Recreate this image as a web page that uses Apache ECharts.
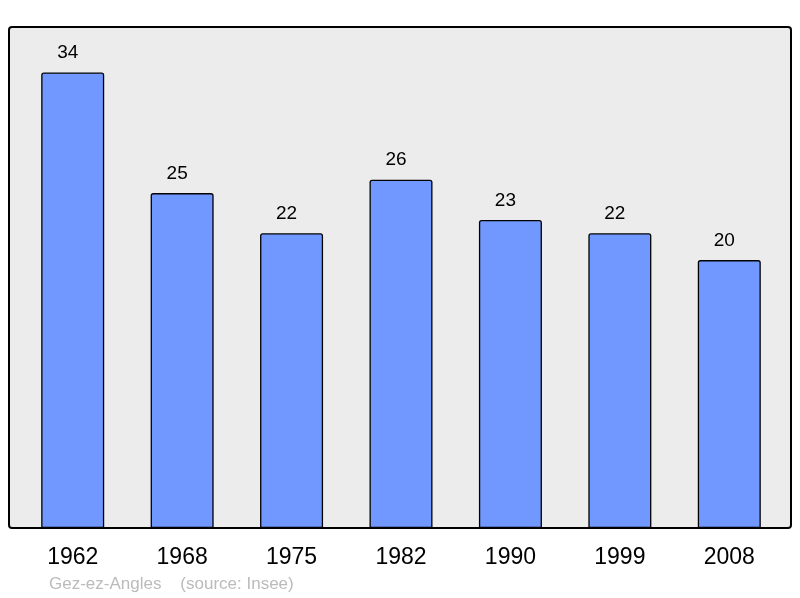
<!DOCTYPE html>
<html>
<head>
<meta charset="utf-8">
<script src="https://cdn.jsdelivr.net/npm/echarts@6/dist/echarts.min.js"></script>
<style>
  html, body { margin: 0; padding: 0; background: #fff; }
  #chart { width: 800px; height: 598px; }
</style>
</head>
<body>
<div id="chart"></div>
<script>
// data
const years = ['1962', '1968', '1975', '1982', '1990', '1999', '2008']
const population = [34, 25, 22, 26, 23, 22, 20]
const footer = 'Gez-ez-Angles    (source: Insee)'

const chart = echarts.init(document.getElementById('chart'))

const option = {
  animation: false,
  textStyle: { fontFamily: 'Liberation Sans, Arial, sans-serif' },
  graphic: [
    {
      // frame of the plot area
      type: 'rect',
      z: -10,
      shape: { x: 9, y: 27, width: 782, height: 501, r: 3 },
      style: { fill: '#ececec', stroke: '#000', lineWidth: 2 }
    },
    {
      type: 'text',
      left: 49,
      top: 576,
      style: {
        text: footer,
        fill: '#bbbbbb',
        font: '17px Liberation Sans, Arial, sans-serif'
      }
    }
  ],
  grid: {
    left: 18,
    right: 16,
    top: 27,
    bottom: 70,
    containLabel: false
  },
  xAxis: {
    type: 'category',
    data: years,
    axisLine: { show: false },
    axisTick: { show: false },
    axisLabel: {
      color: '#000',
      fontSize: 23,
      margin: 18
    }
  },
  yAxis: {
    type: 'value',
    min: 0,
    max: 37.4,
    show: false,
    splitLine: { show: false }
  },
  series: [
    {
      type: 'bar',
      data: population,
      barWidth: 63,
      itemStyle: {
        color: '#7098ff',
        borderColor: '#000',
        borderWidth: 1.3,
        borderRadius: [2, 2, 0, 0]
      },
      label: {
        show: true,
        position: 'top',
        distance: 10,
        offset: [-5, 0],
        color: '#000',
        fontSize: 19
      }
    }
  ]
}

chart.setOption(option)
window.addEventListener('resize', () => { chart.resize() })
</script>
</body>
</html>
